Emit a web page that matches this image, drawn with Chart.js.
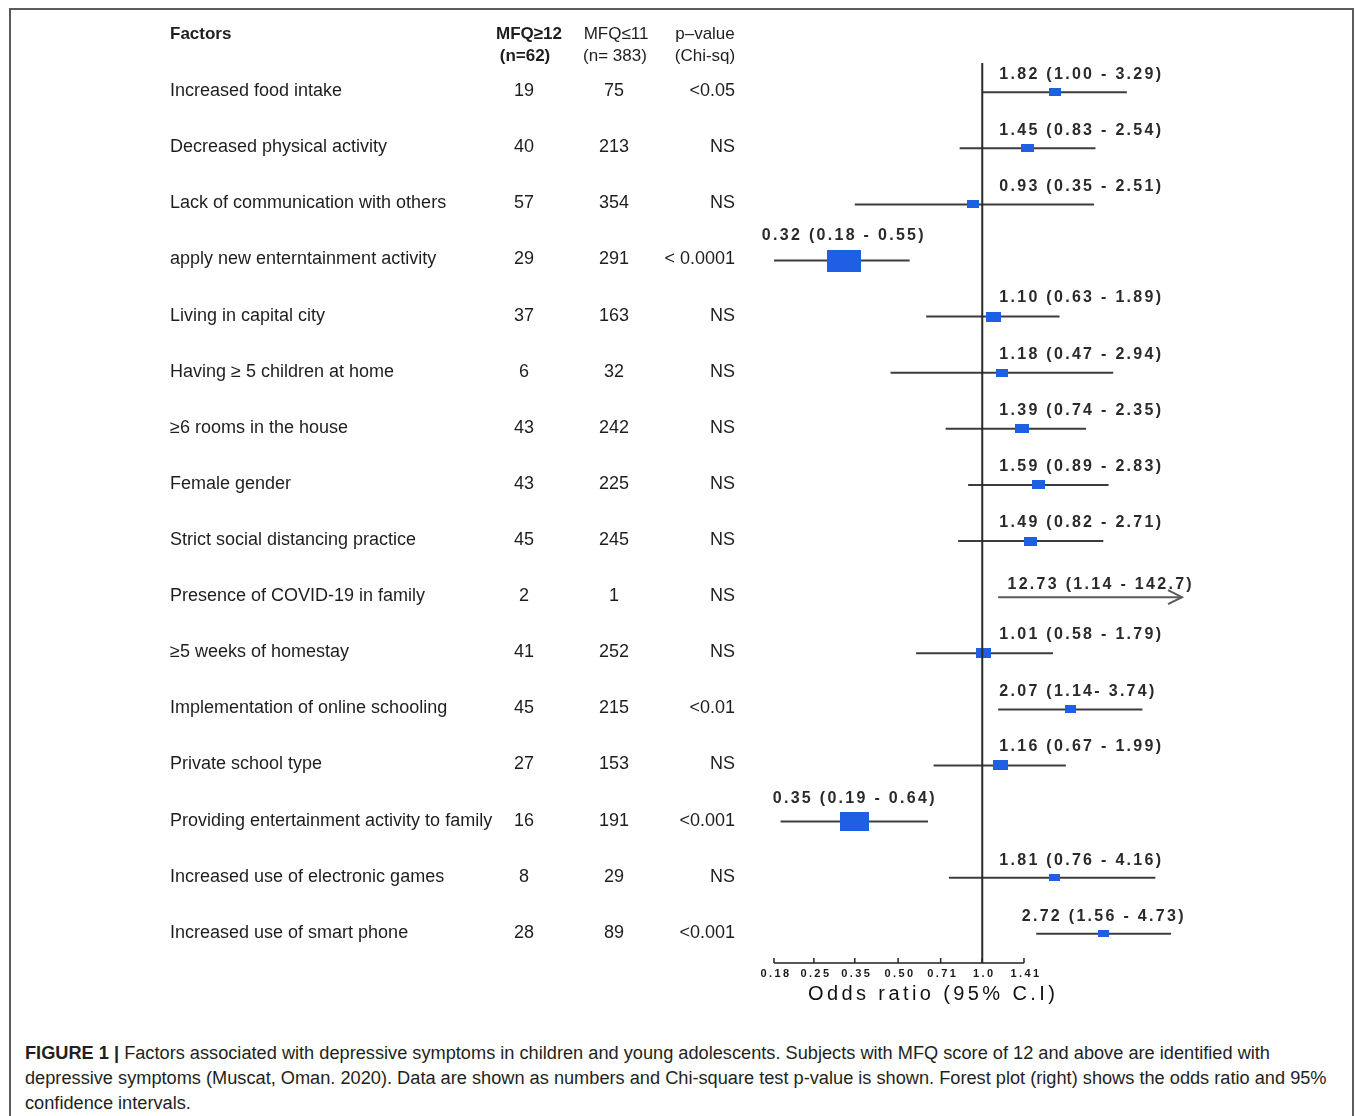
<!DOCTYPE html>
<html>
<head>
<meta charset="utf-8">
<title>Factors associated with depressive symptoms</title>
<script src="https://cdn.jsdelivr.net/npm/chart.js@4.4.0/dist/chart.umd.min.js"></script>
<style>
  html, body { margin: 0; padding: 0; background: #fff; }
  body { width: 1355px; height: 1116px; position: relative; overflow: hidden; }
  #frame { position: absolute; left: 9px; top: 8px; width: 1345px; height: 1140px; border: 2px solid #5c5c5c; box-sizing: border-box; }
  #plot { position: absolute; left: 0; top: 0; }
  #caption { position: absolute; left: 25px; top: 1041px; font-family: "Liberation Sans", Arial, sans-serif; font-size: 18px; line-height: 25px; color: #231f20; white-space: nowrap; transform-origin: 0 0; }
  #caption span { display: inline-block; }
</style>
</head>
<body>
<div id="frame"></div>
<canvas id="plot" width="1355" height="1020"></canvas>
<div id="caption"><span id="capLine1"><b>FIGURE 1 |</b> Factors associated with depressive symptoms in children and young adolescents. Subjects with MFQ score of 12 and above are identified with</span><br><span>depressive symptoms (Muscat, Oman. 2020). Data are shown as numbers and Chi-square test p-value is shown. Forest plot (right) shows the odds ratio and 95%</span><br><span>confidence intervals.</span></div>
<script>
// table data
const factors = [
    'Increased food intake',
    'Decreased physical activity',
    'Lack of communication with others',
    'apply new enterntainment activity',
    'Living in capital city',
    'Having \u2265 5 children at home',
    '\u22656 rooms in the house',
    'Female gender',
    'Strict social distancing practice',
    'Presence of COVID-19 in family',
    '\u22655 weeks of homestay',
    'Implementation of online schooling',
    'Private school type',
    'Providing entertainment activity to family',
    'Increased use of electronic games',
    'Increased use of smart phone'
];
const mfqHigh = [19, 40, 57, 29, 37, 6, 43, 43, 45, 2, 41, 45, 27, 16, 8, 28];
const mfqLow = [75, 213, 354, 291, 163, 32, 242, 225, 245, 1, 252, 215, 153, 191, 29, 89];
const pValues = ['<0.05', 'NS', 'NS', '< 0.0001', 'NS', 'NS', 'NS', 'NS', 'NS', 'NS', 'NS', '<0.01', 'NS', '<0.001', 'NS', '<0.001'];

// forest plot data
const oddsRatio = [1.82, 1.45, 0.93, 0.32, 1.10, 1.18, 1.39, 1.59, 1.49, 12.73, 1.01, 2.07, 1.16, 0.35, 1.81, 2.72];
const ciLow = [1.00, 0.83, 0.35, 0.18, 0.63, 0.47, 0.74, 0.89, 0.82, 1.14, 0.58, 1.14, 0.67, 0.19, 0.76, 1.56];
const ciHigh = [3.29, 2.54, 2.51, 0.55, 1.89, 2.94, 2.35, 2.83, 2.71, 142.7, 1.79, 3.74, 1.99, 0.64, 4.16, 4.73];
const ciLabels = [
    '1.82 (1.00 - 3.29)', '1.45 (0.83 - 2.54)', '0.93 (0.35 - 2.51)', '0.32 (0.18 - 0.55)',
    '1.10 (0.63 - 1.89)', '1.18 (0.47 - 2.94)', '1.39 (0.74 - 2.35)', '1.59 (0.89 - 2.83)',
    '1.49 (0.82 - 2.71)', '12.73 (1.14 - 142.7)', '1.01 (0.58 - 1.79)', '2.07 (1.14- 3.74)',
    '1.16 (0.67 - 1.99)', '0.35 (0.19 - 0.64)', '1.81 (0.76 - 4.16)', '2.72 (1.56 - 4.73)'
];
// relative box weight (0 = no box drawn)
const weights = [1.0, 1.05, 1.0, 2.8, 1.25, 1.0, 1.15, 1.1, 1.1, 0, 1.25, 0.95, 1.25, 2.4, 0.9, 0.9];

// axis ticks
const tickValues = [0.18, 0.25, 0.35, 0.50, 0.71, 1.0, 1.41];
const tickLabels = ['0.18', '0.25', '0.35', '0.50', '0.71', '1.0', '1.41'];

document.addEventListener('DOMContentLoaded', function() {
    const FONT = '"Liberation Sans", Arial, sans-serif';
    const xMin = 0.1604, xMax = 5.18;
    const rowPad = 0.52;

    // squeeze the caption to the condensed width of the original
    const caption = document.getElementById('caption');
    const line1 = document.getElementById('capLine1');
    caption.style.transform = 'scaleX(' + (1245 / line1.getBoundingClientRect().width) + ')';

    // blue box image for a given weight
    function boxImage(w) {
        const c = document.createElement('canvas');
        c.width = Math.round(12 * w);
        c.height = Math.round(8 * w);
        const g = c.getContext('2d');
        g.fillStyle = '#1f5fe4';
        g.fillRect(0, 0, c.width, c.height);
        return c;
    }

    // one line per confidence interval
    const ciSets = ciLow.map(function(lo, i) {
        return {
            data: [{ x: lo, y: i }, { x: ciHigh[i], y: i }],
            showLine: true,
            borderColor: ciHigh[i] > xMax ? '#5a5a5a' : '#3c3c3c',
            borderWidth: 2,
            pointRadius: 0,
            order: 2
        };
    });

    const boxData = [];
    oddsRatio.forEach(function(or, i) {
        if (weights[i] > 0 && or <= xMax) {
            boxData.push({ x: or, y: i, img: boxImage(weights[i]) });
        }
    });

    // table, labels, reference line and axis
    const forestDecor = {
        id: 'forestDecor',
        afterDatasetsDraw: function(chart) {
            const ctx = chart.ctx;
            const xs = chart.scales.x;
            const ys = chart.scales.y;
            const area = chart.chartArea;
            const x1 = xs.getPixelForValue(1);
            ctx.save();

            // line of no effect
            ctx.strokeStyle = '#2a2a2a';
            ctx.lineWidth = 2;
            ctx.beginPath();
            ctx.moveTo(x1, area.top);
            ctx.lineTo(x1, area.bottom);
            ctx.stroke();

            // bottom axis
            const xa = xs.getPixelForValue(tickValues[0]);
            const xb = xs.getPixelForValue(tickValues[tickValues.length - 1]);
            ctx.strokeStyle = '#222';
            ctx.lineWidth = 1.5;
            ctx.beginPath();
            ctx.moveTo(xa, area.bottom);
            ctx.lineTo(xb, area.bottom);
            tickValues.forEach(function(v) {
                const px = xs.getPixelForValue(v);
                ctx.moveTo(px, area.bottom);
                ctx.lineTo(px, area.bottom - 5);
            });
            ctx.stroke();

            ctx.fillStyle = '#1a1a1a';
            ctx.textBaseline = 'middle';
            ctx.textAlign = 'center';
            ctx.font = 'bold 11px ' + FONT;
            ctx.letterSpacing = '2.4px';
            tickValues.forEach(function(v, k) {
                ctx.fillText(tickLabels[k], xs.getPixelForValue(v) + 2, area.bottom + 11);
            });
            ctx.textAlign = 'left';
            ctx.fillStyle = '#111';
            ctx.font = '20px ' + FONT;
            ctx.letterSpacing = '3.4px';
            ctx.fillText('Odds ratio (95% C.I)', xa + 34, area.bottom + 31);

            // estimate labels
            ctx.font = 'bold 16px ' + FONT;
            ctx.letterSpacing = '2.3px';
            ctx.fillStyle = '#2a2a2a';
            ciLabels.forEach(function(txt, i) {
                const yp = ys.getPixelForValue(i);
                const w = ctx.measureText(txt).width;
                const bx = xs.getPixelForValue(Math.min(oddsRatio[i], xMax * 4));
                let left = bx - w / 2;
                if (ciHigh[i] > 1) left = Math.max(left, x1 + 17);
                left = Math.min(left, area.right + 12 - w);
                const h = Math.round(8 * weights[i]);
                const yl = weights[i] > 0 ? yp - (h / 2 + 14) : yp - 13;
                ctx.fillText(txt, left, yl);
            });

            // arrow heads for intervals beyond the axis
            ctx.strokeStyle = '#5a5a5a';
            ctx.lineWidth = 2;
            ciHigh.forEach(function(hi, i) {
                if (hi > xMax) {
                    const yp = ys.getPixelForValue(i);
                    ctx.beginPath();
                    ctx.moveTo(area.right - 14, yp - 7);
                    ctx.lineTo(area.right, yp);
                    ctx.lineTo(area.right - 14, yp + 7);
                    ctx.stroke();
                }
            });

            // table header
            ctx.letterSpacing = '0px';
            ctx.fillStyle = '#1e1e1e';
            ctx.textAlign = 'left';
            ctx.font = 'bold 17px ' + FONT;
            ctx.fillText('Factors', 170, 34);
            ctx.textAlign = 'center';
            ctx.fillText('MFQ\u226512', 529, 34);
            ctx.fillText('(n=62)', 525, 56);
            ctx.font = '17px ' + FONT;
            ctx.fillText('MFQ\u226411', 616, 34);
            ctx.fillText('(n= 383)', 615, 56);
            ctx.fillText('p\u2013value', 705, 34);
            ctx.fillText('(Chi-sq)', 705, 56);

            // table rows
            ctx.font = '18px ' + FONT;
            factors.forEach(function(name, i) {
                const yp = ys.getPixelForValue(i) - 1;
                ctx.textAlign = 'left';
                ctx.fillText(name, 170, yp);
                ctx.textAlign = 'center';
                ctx.fillText(String(mfqHigh[i]), 524, yp);
                ctx.fillText(String(mfqLow[i]), 614, yp);
                ctx.textAlign = 'right';
                ctx.fillText(pValues[i], 735, yp);
            });
            ctx.restore();
        }
    };

    const ctx = document.getElementById('plot').getContext('2d');
    new Chart(ctx, {
        type: 'scatter',
        data: {
            datasets: ciSets.concat([{
                data: boxData,
                pointStyle: function(c) { return c.raw ? c.raw.img : 'rect'; },
                pointRadius: 6,
                order: 1
            }])
        },
        options: {
            responsive: false,
            animation: false,
            events: [],
            layout: { padding: { left: 760, right: 173, top: 63, bottom: 57 } },
            scales: {
                x: { type: 'logarithmic', min: xMin, max: xMax, bounds: 'data', display: false },
                y: { type: 'linear', min: -rowPad, max: factors.length - 1 + rowPad, bounds: 'data', reverse: true, display: false }
            },
            plugins: {
                legend: { display: false },
                tooltip: { enabled: false }
            }
        },
        plugins: [forestDecor]
    });
});
</script>
</body>
</html>
